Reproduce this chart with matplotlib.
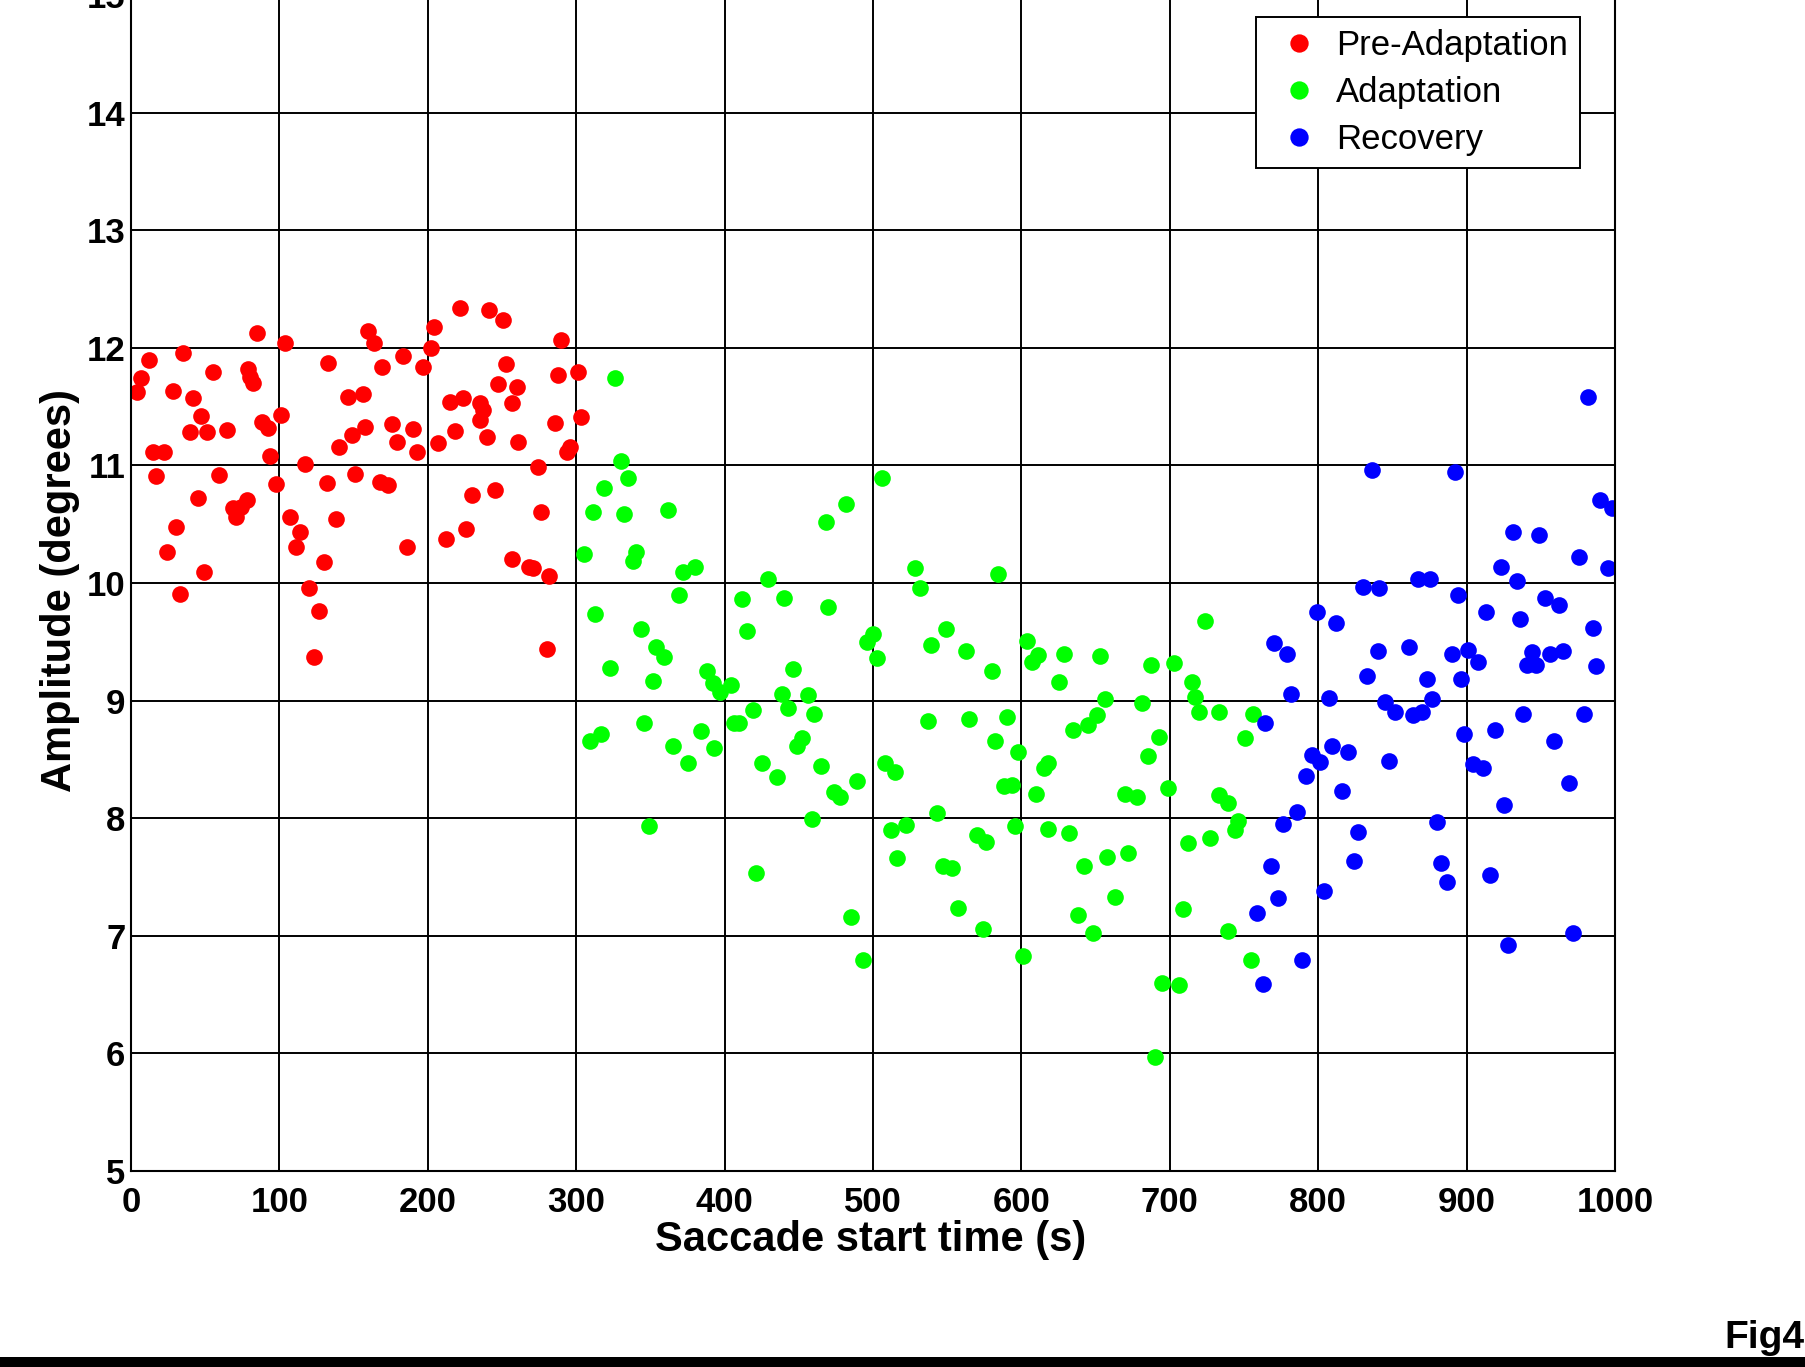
import matplotlib
matplotlib.use("Agg")
import matplotlib.pyplot as plt
from matplotlib.patches import Rectangle

plt.rcParams['font.family'] = ['Liberation Sans', 'DejaVu Sans']

# Pre-Adaptation (red)
pre_t = [222, 241, 251, 85, 160, 164, 204, 104, 202, 35, 12, 133, 183, 169, 197, 253,
         7, 55, 79, 80, 82, 4, 28, 42, 247, 260, 146, 156, 215, 224, 235, 237, 257,
         47, 101, 235, 40, 51, 65, 88, 92, 149, 158, 176, 190, 179, 140, 218, 240,
         207, 193, 261, 15, 22, 94, 117, 17, 59, 151, 132, 168, 173, 98, 230, 245,
         45, 69, 74, 78, 71, 107, 138, 30, 114, 111, 212, 226, 186, 24, 130, 257,
         49, 33, 120, 127, 123, 290, 288, 301, 286, 303, 296, 294, 274, 276, 268,
         271, 282, 280]
pre_amp = [12.34, 12.32, 12.24, 12.13, 12.14, 12.04, 12.18, 12.04, 12.00, 11.96, 11.90,
           11.87, 11.93, 11.84, 11.84, 11.86, 11.74, 11.79, 11.82, 11.75, 11.70, 11.62,
           11.63, 11.57, 11.69, 11.67, 11.58, 11.61, 11.54, 11.57, 11.53, 11.47, 11.53,
           11.42, 11.43, 11.39, 11.28, 11.28, 11.30, 11.37, 11.32, 11.26, 11.33, 11.35,
           11.31, 11.20, 11.16, 11.29, 11.24, 11.19, 11.11, 11.20, 11.11, 11.11, 11.08,
           11.01, 10.91, 10.92, 10.93, 10.85, 10.86, 10.83, 10.84, 10.75, 10.79, 10.72,
           10.64, 10.65, 10.71, 10.56, 10.56, 10.54, 10.48, 10.43, 10.31, 10.37, 10.46,
           10.31, 10.26, 10.18, 10.20, 10.09, 9.91, 9.96, 9.76, 9.37, 12.07, 11.77,
           11.79, 11.36, 11.41, 11.16, 11.11, 10.99, 10.60, 10.14, 10.13, 10.06, 9.44]

# Adaptation (green)
ada_t = [326, 330, 335, 319, 311, 332, 362, 506, 482, 468, 305, 340, 338, 372, 380, 429,
         369, 412, 440, 470, 313, 344, 415, 500, 496, 354, 359, 503, 323, 388, 446, 352,
         392, 397, 404, 528, 532, 584, 549, 539, 563, 580, 604, 611, 607, 629, 653, 687,
         703, 724, 625, 715, 439, 443, 456, 460, 419, 406, 410, 346, 317, 309, 384, 365,
         393, 452, 449, 375, 425, 435, 465, 489, 474, 478, 508, 515, 349, 459, 512, 516,
         421, 485, 493, 717, 720, 733, 756, 751, 656, 651, 645, 635, 681, 537, 565, 590,
         582, 598, 693, 685, 618, 615, 588, 594, 610, 670, 678, 699, 733, 739, 746, 744,
         543, 522, 570, 576, 596, 618, 632, 712, 727, 658, 672, 642, 547, 553, 663, 557,
         638, 709, 574, 648, 739, 601, 755, 695, 706, 690]
ada_amp = [11.74, 11.04, 10.89, 10.81, 10.60, 10.59, 10.62, 10.89, 10.67, 10.52, 10.25,
           10.26, 10.19, 10.09, 10.14, 10.03, 9.90, 9.86, 9.87, 9.80, 9.74, 9.61, 9.59,
           9.57, 9.50, 9.46, 9.37, 9.36, 9.28, 9.25, 9.27, 9.17, 9.15, 9.07, 9.13, 10.13,
           9.96, 10.08, 9.61, 9.47, 9.42, 9.25, 9.51, 9.39, 9.33, 9.40, 9.38, 9.30, 9.32,
           9.68, 9.16, 9.16, 9.06, 8.94, 9.05, 8.89, 8.92, 8.81, 8.81, 8.81, 8.72, 8.66,
           8.74, 8.61, 8.60, 8.68, 8.61, 8.47, 8.47, 8.35, 8.44, 8.32, 8.22, 8.18, 8.47,
           8.39, 7.93, 7.99, 7.90, 7.66, 7.53, 7.16, 6.79, 9.03, 8.90, 8.90, 8.89, 8.68,
           9.01, 8.88, 8.79, 8.75, 8.98, 8.83, 8.84, 8.86, 8.66, 8.56, 8.69, 8.53, 8.47,
           8.43, 8.27, 8.28, 8.21, 8.21, 8.18, 8.26, 8.20, 8.13, 7.98, 7.90, 8.04, 7.94,
           7.86, 7.80, 7.93, 7.91, 7.87, 7.79, 7.83, 7.67, 7.70, 7.59, 7.59, 7.58, 7.33,
           7.24, 7.18, 7.23, 7.06, 7.02, 7.04, 6.83, 6.79, 6.60, 6.58, 5.97]

# Recovery (blue)
rec_t = [982, 836, 892, 990, 998, 931, 949, 976, 995, 923, 934, 830, 841, 867, 875, 894,
         953, 962, 799, 812, 913, 936, 985, 770, 779, 840, 861, 890, 901, 908, 944, 956,
         965, 941, 947, 987, 833, 873, 896, 782, 807, 845, 852, 864, 870, 877, 764, 938,
         979, 898, 919, 959, 809, 820, 796, 801, 848, 792, 904, 911, 816, 969, 925, 786,
         776, 880, 827, 768, 824, 883, 887, 916, 804, 773, 759, 972, 928, 789, 763]
rec_amp = [11.58, 10.96, 10.94, 10.71, 10.64, 10.43, 10.41, 10.22, 10.13, 10.14, 10.02,
           9.97, 9.96, 10.03, 10.03, 9.90, 9.87, 9.81, 9.75, 9.66, 9.75, 9.69, 9.62, 9.49,
           9.40, 9.42, 9.46, 9.40, 9.43, 9.33, 9.41, 9.40, 9.42, 9.30, 9.30, 9.29, 9.21,
           9.18, 9.18, 9.06, 9.02, 8.99, 8.90, 8.88, 8.90, 9.01, 8.81, 8.89, 8.89, 8.72,
           8.75, 8.66, 8.61, 8.56, 8.54, 8.48, 8.49, 8.36, 8.46, 8.43, 8.23, 8.30, 8.11,
           8.05, 7.95, 7.97, 7.88, 7.59, 7.64, 7.62, 7.46, 7.52, 7.38, 7.32, 7.19, 7.02,
           6.92, 6.79, 6.59]

W, H = 1806, 1367
fig = plt.figure(figsize=(W / 100, H / 100), dpi=100)
fig.patch.set_facecolor('white')

# axes top runs just past the top edge, as in the original
ax = fig.add_axes([131 / W, (H - 1171) / H, 1484 / W, 1176 / H])

ms = 12
ax.plot(pre_t, pre_amp, 'o', color=(1, 0, 0), ms=ms, mew=0, label='Pre-Adaptation')
ax.plot(ada_t, ada_amp, 'o', color=(0, 1, 0), ms=ms, mew=0, label='Adaptation')
ax.plot(rec_t, rec_amp, 'o', color=(0, 0, 1), ms=ms, mew=0, label='Recovery')

ax.set_xlim(0, 1000)
ax.set_ylim(5, 15)
ax.set_xticks(range(0, 1001, 100))
ax.set_yticks(range(5, 16))
ax.grid(True, color='k', lw=1.4, ls='-')
ax.set_axisbelow(True)
for s in ax.spines.values():
    s.set_linewidth(1.5)
ax.tick_params(length=0, labelsize=25)
ax.tick_params(axis='x', pad=11)
ax.tick_params(axis='y', pad=4)
for lab in ax.get_xticklabels() + ax.get_yticklabels():
    lab.set_fontweight('bold')

fig.text(871 / W, 1 - 1240 / H, 'Saccade start time (s)', ha='center', va='center',
         fontsize=30, fontweight='bold')
fig.text(60 / W, 1 - 590 / H, 'Amplitude (degrees)', ha='center', va='center',
         rotation=90, fontsize=30, fontweight='bold')

leg = ax.legend(loc='upper left', bbox_to_anchor=(1256 / W, 1 - 17 / H),
                bbox_transform=fig.transFigure, fontsize=25, frameon=True, fancybox=False,
                borderpad=0.35, handlelength=1.8, handletextpad=0.15, labelspacing=0.4,
                borderaxespad=0, markerscale=1.1, numpoints=1)
leg.get_frame().set_edgecolor('k')
leg.get_frame().set_linewidth(1.4)
leg.get_frame().set_alpha(1)

fig.text(1724 / W, 1 - 1338 / H, 'Fig4', ha='left', va='center', fontsize=28, fontweight='bold')
fig.add_artist(Rectangle((0, 0), 1, 10 / H, transform=fig.transFigure, color='k', lw=0))

fig.savefig('out.png', dpi=100)
